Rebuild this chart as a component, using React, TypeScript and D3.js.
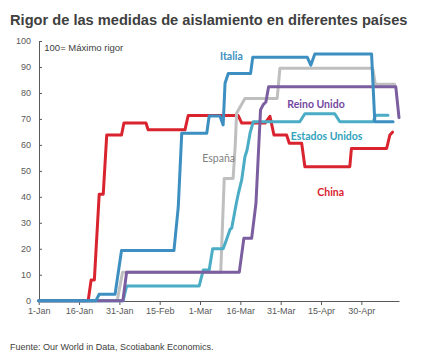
import React, { useEffect, useRef } from "react";
import * as d3 from "d3";

// Days since 1-Jan-2020 and index values (0-100)
const chinaDays = [0, 18.4, 19.5, 20.7, 22.5, 24, 25.3, 30.8, 31.7, 39.9, 40.7, 54.4, 55.6, 74.2, 75.5, 84.2, 86, 87.5, 92.2, 93.2, 97.8, 99, 115.7, 116.3, 129.4, 130.6, 131.6];
const chinaVals = [0, 0, 8, 8, 41, 41, 63.8, 63.8, 68.4, 68.4, 65.8, 65.8, 71.3, 71.3, 68.4, 68.4, 71, 63.8, 63.8, 60.6, 60.6, 51.6, 51.6, 58.6, 58.6, 63.8, 64.9];

const italiaDays = [0, 21.3, 22.5, 28.4, 30.8, 50.3, 51.9, 53.2, 62.5, 63.4, 67.4, 68.6, 69.3, 70.5, 78.8, 79.6, 99.9, 101.2, 102.7, 123.8, 125, 131.8];
const italiaVals = [0, 0, 2.5, 2.5, 19.3, 19.3, 36, 64.5, 64.5, 71.1, 71.1, 67.7, 83.7, 87.5, 87.5, 93.7, 93.7, 90.7, 95, 95, 68.9, 68.9];

const espanaDays = [0, 29.2, 31.2, 67.7, 69, 72.3, 73.1, 73.6, 76.7, 88.7, 89.7, 124.2, 125.2, 132.4];
const espanaVals = [0, 0, 11, 11, 47.1, 47.1, 60, 72.2, 77.9, 77.9, 89.5, 89.5, 83.3, 83.3];

const reinoDays = [0, 31.3, 32.7, 74.6, 76.3, 79.2, 80.8, 82.5, 83.5, 84.5, 85.5, 132.8, 134];
const reinoVals = [0, 0, 11, 11, 24, 24, 37.5, 73.5, 75.5, 76.5, 82.4, 82.4, 70.5];

const usaDays = [0, 31.4, 32.7, 59.7, 61.2, 63.4, 64.7, 68.6, 69.8, 71.2, 71.8, 73.5, 74.2, 75.5, 76.7, 77.5, 78.6, 79.8, 97.1, 99, 110.1, 112, 124.5, 125.2, 129.9];
const usaVals = [0, 0, 5.7, 5.7, 11.8, 11.8, 20, 20, 23.4, 27.5, 28, 37.5, 41, 46.5, 55.4, 58, 64.5, 68.9, 68.9, 72, 72, 68.9, 68.9, 71.4, 71.4];

const seriesNames = ["China", "España", "Estados Unidos", "Reino Unido", "Italia"];
const seriesColors = ["#d9232e", "#bfbfbf", "#4bacc6", "#7b5ea0", "#3d8fc1"];
const labelColors = ["#d9232e", "#7f7f7f", "#31a3bd", "#7447a0", "#3d8fc1"];

const xTickLabels = ["1-Jan", "16-Jan", "31-Jan", "15-Feb", "1-Mar", "16-Mar", "31-Mar", "15-Apr", "30-Apr"];
const xTickDays = [0, 15, 30, 45, 60, 75, 90, 105, 120];
const yTicks = [0, 10, 20, 30, 40, 50, 60, 70, 80, 90, 100];

const W = 421;
const H = 357;
const start = new Date(2020, 0, 1);
const toDate = (d: number) => new Date(start.getTime() + d * 864e5);

export default function App() {
  const ref = useRef<SVGSVGElement>(null);

  useEffect(() => {
    const svg = d3.select(ref.current);
    svg.selectAll("*").remove();

    const x = d3.scaleTime().domain([start, toDate(134)]).range([38.7, 399]);
    const y = d3.scaleLinear().domain([0, 100]).range([300.7, 41]);

    svg.append("rect").attr("width", W).attr("height", H).attr("fill", "#ffffff");

    // Title, sized to span the same width as in the reference
    const title = svg.append("text")
      .attr("x", 10).attr("y", 25)
      .attr("font-family", "Liberation Sans, Arial, sans-serif")
      .attr("font-weight", "bold").attr("font-size", 16)
      .attr("fill", "#404040")
      .text("Rigor de las medidas de aislamiento en diferentes países");
    const tn = title.node() as SVGTextElement | null;
    if (tn) {
      const len = tn.getComputedTextLength();
      if (len > 0) title.attr("font-size", Math.min(16, (16 * 398) / len));
    }

    // Y axis
    const yAxis = d3.axisLeft(y).tickValues(yTicks).tickSize(-3).tickPadding(8).tickSizeOuter(0);
    const gy = svg.append("g").attr("transform", "translate(39,0)").call(yAxis);
    gy.select(".domain").attr("stroke", "#595959");
    gy.selectAll(".tick line").attr("stroke", "#595959");
    gy.selectAll(".tick text")
      .attr("font-family", "Liberation Sans, Arial, sans-serif")
      .attr("font-size", 9).attr("fill", "#595959");

    // X axis
    const xAxis = d3.axisBottom(x)
      .tickValues(xTickDays.map(toDate))
      .tickFormat((_d, i) => xTickLabels[i])
      .tickSize(4).tickPadding(3).tickSizeOuter(0);
    const gx = svg.append("g").attr("transform", "translate(0,301)").call(xAxis);
    gx.select(".domain").attr("stroke", "#595959");
    gx.selectAll(".tick line").attr("stroke", "#595959");
    gx.selectAll(".tick text")
      .attr("font-family", "Liberation Sans, Arial, sans-serif")
      .attr("font-size", 9).attr("fill", "#595959");

    // note
    svg.append("text")
      .attr("x", 44.3).attr("y", 51)
      .attr("font-family", "Liberation Sans, Arial, sans-serif")
      .attr("font-size", 9.5).attr("fill", "#404040")
      .text("100= Máximo rigor");

    const data = [
      [chinaDays, chinaVals],
      [espanaDays, espanaVals],
      [usaDays, usaVals],
      [reinoDays, reinoVals],
      [italiaDays, italiaVals],
    ];

    const line = d3.line<[number, number]>()
      .x((d) => x(toDate(d[0])))
      .y((d) => y(d[1]));

    data.forEach(([days, vals], i) => {
      const pts = days.map((d, j) => [d, vals[j]] as [number, number]);
      svg.append("path")
        .attr("d", line(pts))
        .attr("fill", "none")
        .attr("stroke", seriesColors[i])
        .attr("stroke-width", 3)
        .attr("stroke-linejoin", "round")
        .attr("stroke-linecap", "round");
    });

    // Series labels
    const labelPos: Record<string, [number, number]> = {
      "China": [317.3, 195.5],
      "España": [202.3, 162],
      "Estados Unidos": [290.7, 140],
      "Reino Unido": [287.3, 108],
      "Italia": [220, 60],
    };
    seriesNames.forEach((n, i) => {
      svg.append("text")
        .attr("x", labelPos[n][0]).attr("y", labelPos[n][1])
        .attr("font-family", "Lato, sans-serif")
        .attr("font-weight", n === "España" ? 400 : 700)
        .attr("font-size", 10.5)
        .attr("fill", labelColors[i])
        .text(n);
    });

    // Source
    svg.append("text")
      .attr("x", 10).attr("y", 350)
      .attr("font-family", "Liberation Sans, Arial, sans-serif")
      .attr("font-size", 9).attr("fill", "#404040")
      .text("Fuente: Our World in Data, Scotiabank Economics.");
  }, []);

  return (
    <svg
      ref={ref}
      width={W}
      height={H}
      style={{ position: "absolute", left: 0, top: 0, display: "block" }}
    />
  );
}
